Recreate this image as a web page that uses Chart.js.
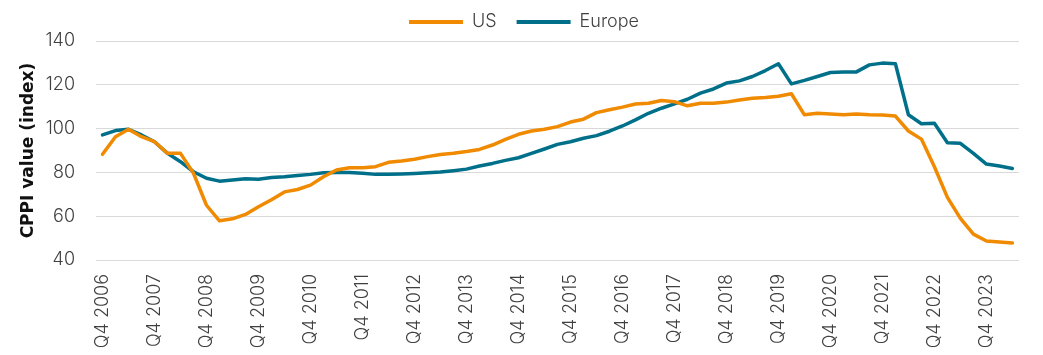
<!DOCTYPE html>
<html>
<head>
<meta charset="utf-8">
<title>CPPI value (index)</title>
<script src="https://cdn.jsdelivr.net/npm/chart.js@4.4.1/dist/chart.umd.min.js"></script>
<style>
  html, body { margin: 0; padding: 0; background: #ffffff; overflow: hidden; }
  #wrap { width: 1048px; height: 355px; }
</style>
</head>
<body>
<div id="wrap"><canvas id="cppi" width="1048" height="355"></canvas></div>
<script>
// Quarterly periods, Q4 2006 to Q2 2024
const quarters = [
  'Q4 2006',
  'Q1 2007','Q2 2007','Q3 2007','Q4 2007',
  'Q1 2008','Q2 2008','Q3 2008','Q4 2008',
  'Q1 2009','Q2 2009','Q3 2009','Q4 2009',
  'Q1 2010','Q2 2010','Q3 2010','Q4 2010',
  'Q1 2011','Q2 2011','Q3 2011','Q4 2011',
  'Q1 2012','Q2 2012','Q3 2012','Q4 2012',
  'Q1 2013','Q2 2013','Q3 2013','Q4 2013',
  'Q1 2014','Q2 2014','Q3 2014','Q4 2014',
  'Q1 2015','Q2 2015','Q3 2015','Q4 2015',
  'Q1 2016','Q2 2016','Q3 2016','Q4 2016',
  'Q1 2017','Q2 2017','Q3 2017','Q4 2017',
  'Q1 2018','Q2 2018','Q3 2018','Q4 2018',
  'Q1 2019','Q2 2019','Q3 2019','Q4 2019',
  'Q1 2020','Q2 2020','Q3 2020','Q4 2020',
  'Q1 2021','Q2 2021','Q3 2021','Q4 2021',
  'Q1 2022','Q2 2022','Q3 2022','Q4 2022',
  'Q1 2023','Q2 2023','Q3 2023','Q4 2023',
  'Q1 2024','Q2 2024'
];

// Only the Q4 periods carry an axis label
const labelledQuarters = [
  'Q4 2006','Q4 2007','Q4 2008','Q4 2009','Q4 2010','Q4 2011',
  'Q4 2012','Q4 2013','Q4 2014','Q4 2015','Q4 2016','Q4 2017',
  'Q4 2018','Q4 2019','Q4 2020','Q4 2021','Q4 2022','Q4 2023'
];

const usValues = [
  88.3,
  96.3, 99.7, 96.3, 94.0,
  88.7, 88.7, 79.6, 65.0,
  57.9, 58.8, 60.8, 64.3,
  67.5, 71.1, 72.2, 74.2,
  78.0, 81.1, 82.1, 82.1,
  82.6, 84.6, 85.2, 86.0,
  87.2, 88.2, 88.7, 89.5,
  90.5, 92.5, 95.1, 97.4,
  98.9, 99.7, 100.9, 103.0,
  104.3, 107.3, 108.6, 109.8,
  111.2, 111.6, 112.8, 112.3,
  110.4, 111.6, 111.6, 112.1,
  113.1, 113.9, 114.2, 114.8,
  115.9, 106.3, 107.0, 106.7,
  106.3, 106.7, 106.3, 106.2,
  105.7, 98.9, 95.2, 82.6,
  68.6, 59.0, 51.8, 48.7,
  48.2, 47.8
];

const europeValues = [
  97.1,
  99.1, 99.7, 97.1, 94.0,
  88.7, 84.9, 80.3, 77.3,
  76.0, 76.5, 77.1, 76.9,
  77.7, 78.0, 78.6, 79.1,
  79.8, 79.9, 79.9, 79.6,
  79.1, 79.1, 79.3, 79.5,
  79.8, 80.2, 80.8, 81.5,
  82.9, 84.1, 85.5, 86.7,
  88.7, 90.7, 92.8, 94.0,
  95.6, 96.8, 98.8, 101.2,
  104.0, 107.0, 109.3, 111.3,
  113.4, 116.2, 118.1, 120.8,
  121.8, 123.8, 126.5, 129.6,
  120.4, 122.0, 123.8, 125.6,
  125.9, 125.9, 129.1, 129.9,
  129.6, 106.3, 102.2, 102.4,
  93.5, 93.3, 88.7, 83.8,
  82.9, 81.8
];

const yTicks = [40, 60, 80, 100, 120, 140];

const US_COLOR = '#F08A00';
const EUROPE_COLOR = '#00708A';
const TEXT_COLOR = '#404040';
const BASE_FONT = 'Inter, Roboto, "Liberation Sans", sans-serif';

new Chart(document.getElementById('cppi'), {
  type: 'line',
  data: {
    labels: quarters,
    datasets: [
      {
        label: 'US',
        data: usValues,
        borderColor: US_COLOR,
        backgroundColor: US_COLOR,
        borderWidth: 3.5,
        pointRadius: 0,
        tension: 0,
        borderJoinStyle: 'round',
        borderCapStyle: 'round'
      },
      {
        label: 'Europe',
        data: europeValues,
        borderColor: EUROPE_COLOR,
        backgroundColor: EUROPE_COLOR,
        borderWidth: 3.5,
        pointRadius: 0,
        tension: 0,
        borderJoinStyle: 'round',
        borderCapStyle: 'round'
      }
    ]
  },
  options: {
    responsive: false,
    animation: false,
    events: [],
    layout: { padding: { top: -7, right: 0, bottom: 0, left: 0 } },
    plugins: {
      tooltip: { enabled: false },
      legend: {
        position: 'top',
        align: 'center',
        labels: {
          boxWidth: 54,
          boxHeight: 4,
          padding: 20,
          color: TEXT_COLOR,
          font: { family: BASE_FONT, size: 18, weight: '300' },
          generateLabels(chart) {
            return chart.data.datasets.map((ds, i) => ({
              text: ds.label,
              fillStyle: ds.borderColor,
              strokeStyle: ds.borderColor,
              lineWidth: 0,
              fontColor: TEXT_COLOR,
              hidden: false,
              datasetIndex: i
            }));
          }
        }
      }
    },
    scales: {
      x: {
        type: 'category',
        offset: true,
        grid: { display: false, drawTicks: false },
        border: { display: false },
        afterFit(scale) { scale.height = 95; },
        ticks: {
          autoSkip: false,
          minRotation: 90,
          maxRotation: 90,
          padding: 14,
          color: TEXT_COLOR,
          font: { family: BASE_FONT, size: 18, weight: '300' },
          callback(value, index) {
            const q = quarters[index];
            return labelledQuarters.includes(q) ? q : '';
          }
        }
      },
      y: {
        min: 40,
        max: 140,
        afterFit(scale) { scale.width = 96; },
        afterBuildTicks(scale) { scale.ticks = yTicks.map(v => ({ value: v })); },
        grid: { color: '#d9d9d9', lineWidth: 1, drawTicks: false },
        border: { display: false },
        ticks: {
          padding: 21,
          color: TEXT_COLOR,
          font: { family: BASE_FONT, size: 18, weight: '300' }
        },
        title: {
          display: true,
          text: 'CPPI value (index)',
          color: '#111111',
          padding: { top: 18, bottom: 0 },
          font: { family: '"DejaVu Sans", sans-serif', size: 17, weight: 'bold' }
        }
      }
    }
  }
});
</script>
</body>
</html>
